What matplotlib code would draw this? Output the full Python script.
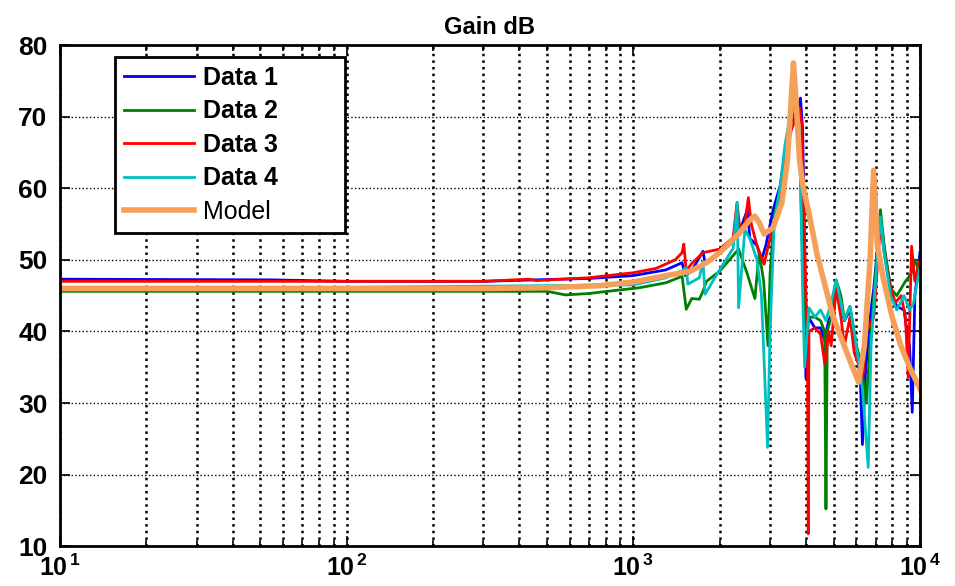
import matplotlib
matplotlib.use("Agg")

import matplotlib.pyplot as plt
import numpy as np
from matplotlib.ticker import FixedLocator, LogLocator, NullFormatter

plt.rcParams['font.family'] = ['Liberation Sans', 'DejaVu Sans']
plt.rcParams['mathtext.fontset'] = 'custom'
plt.rcParams['mathtext.bf'] = 'Liberation Sans:bold'
plt.rcParams['mathtext.rm'] = 'Liberation Sans'

# Datos (frecuencia Hz, ganancia dB)
f_data1 = [10, 55, 100, 300, 450, 700, 1000, 1300, 1480, 1520, 1600, 1750, 1780, 2000,
           2230, 2300, 2350, 2500, 2550, 2700, 2800, 2900, 3075, 3260, 3380, 3520, 3700,
           3830, 3900, 3960, 4000, 4080, 4300, 4500, 4650, 4800, 5000, 5100, 5250, 5450,
           5700, 6000, 6200, 6300, 6450, 6700, 6900, 7280, 7600, 8000, 8300, 8800, 9000,
           9200, 9400, 9600, 10000]
g_data1 = [47.3, 47.2, 47.0, 47.0, 47.2, 47.4, 47.8, 48.6, 49.6, 47.8, 48.5, 51.2, 49.5, 51.0,
           52.5, 55.0, 54.0, 57.0, 53.0, 52.0, 50.0, 52.0, 57.0, 60.5, 65.0, 69.0, 70.0,
           72.6, 68.0, 50.0, 33.5, 42.0, 40.5, 40.5, 38.8, 41.5, 43.0, 46.5, 44.0, 41.5,
           43.0, 38.0, 33.0, 24.2, 34.0, 42.0, 46.0, 56.0, 50.0, 45.0, 43.5, 43.0, 40.0,
           38.0, 28.7, 45.0, 51.0]

f_data2 = [10, 300, 500, 580, 700, 900, 1050, 1300, 1480, 1530, 1600, 1700, 1750, 1800,
           2000, 2230, 2330, 2500, 2655, 2750, 2850, 2950, 3000, 3100, 3260, 3380, 3520,
           3650, 3800, 3900, 3980, 4100, 4300, 4500, 4650, 4700, 4750, 4900, 5100, 5300,
           5450, 5700, 6000, 6200, 6500, 6700, 7000, 7280, 7500, 7900, 8300, 8900, 9300,
           9600, 10000]
g_data2 = [45.6, 45.6, 45.6, 45.1, 45.3, 45.8, 46.1, 46.8, 47.7, 43.1, 44.6, 44.5, 45.6, 47.0,
           48.4, 50.6, 51.5, 48.0, 44.6, 51.0, 47.0, 38.0, 48.0, 56.0, 60.0, 65.0, 69.0,
           70.5, 66.0, 50.0, 40.0, 42.0, 42.0, 41.5, 40.0, 15.2, 40.0, 42.0, 47.2, 45.0,
           41.6, 43.5, 38.0, 36.0, 30.0, 38.0, 48.0, 57.0, 52.0, 46.0, 45.0, 47.0, 48.0,
           50.0, 48.0]

f_data3 = [10, 300, 430, 460, 700, 1000, 1200, 1400, 1480, 1500, 1530, 1600, 1750, 2000,
           2230, 2300, 2350, 2450, 2520, 2580, 2700, 2860, 3000, 3200, 3380, 3550, 3800,
           3870, 3950, 4000, 4050, 4077, 4100, 4300, 4500, 4660, 4800, 4900, 5100, 5300,
           5450, 5700, 5900, 6100, 6300, 6500, 6900, 7280, 7500, 7800, 8200, 8600, 8900,
           9100, 9350, 9600, 10000]
g_data3 = [47.0, 47.0, 47.3, 47.1, 47.5, 48.2, 48.8, 50.0, 51.0, 52.2, 48.5, 49.5, 51.0, 51.5,
           53.1, 58.0, 54.5, 55.0, 58.7, 55.0, 52.0, 49.4, 53.0, 57.0, 64.0, 68.0, 71.2,
           69.0, 55.0, 45.0, 40.0, 11.7, 40.0, 40.5, 39.6, 35.4, 40.0, 38.0, 46.0, 42.0,
           38.0, 42.0, 37.0, 35.5, 33.0, 40.0, 42.0, 55.0, 51.0, 47.0, 44.0, 45.0, 42.0,
           33.6, 51.9, 47.0, 50.0]

f_data4 = [10, 1000, 1300, 1480, 1530, 1550, 1700, 1750, 1780, 2000, 2230, 2305, 2330, 2450,
           2550, 2700, 2800, 2940, 3000, 3100, 3260, 3380, 3520, 3650, 3800, 3900, 3960,
           4100, 4300, 4500, 4700, 4900, 5100, 5300, 5450, 5700, 6000, 6300, 6600, 6750,
           7000, 7280, 7500, 7900, 8300, 8800, 9200, 9500, 10000]
g_data4 = [45.8, 46.5, 47.5, 48.5, 48.9, 46.6, 47.5, 49.8, 45.2, 48.6, 51.6, 58.0, 43.3, 54.2,
           53.0, 50.0, 45.0, 23.8, 40.0, 55.0, 60.5, 66.0, 70.0, 71.4, 68.0, 45.0, 35.0,
           43.3, 42.0, 43.0, 41.5, 44.0, 47.2, 44.0, 41.6, 43.5, 38.0, 32.0, 21.0, 38.0,
           47.0, 56.0, 51.0, 45.0, 43.0, 45.0, 43.0, 44.0, 49.0]

f_model = [10, 300, 500, 764, 1000, 1300, 1580, 1800, 2000, 2330, 2550, 2655, 2750, 2862,
           3075, 3300, 3450, 3550, 3620, 3700, 3800, 3900, 4100, 4380, 4980, 5716, 6110,
           6400, 6700, 6890, 7100, 7460, 8000, 8547, 9200, 10000]
g_model = [46.0, 46.0, 46.1, 46.4, 46.9, 47.8, 48.4, 49.6, 51.0, 53.6, 55.6, 56.1, 55.2, 53.6,
           54.5, 58.0, 64.0, 72.0, 77.5, 72.0, 64.0, 60.5, 56.5, 50.7, 42.0, 35.8, 32.9,
           38.0, 50.0, 62.5, 52.0, 47.3, 42.0, 38.2, 35.0, 32.0]

fig = plt.figure(figsize=(9.55, 5.86), dpi=100)
ax = fig.add_axes([0.0628, 0.068, 0.9005, 0.855])

ax.plot(f_data1, g_data1, color='#0000FF', lw=2, label='Data 1')
ax.plot(f_data2, g_data2, color='#008000', lw=2, label='Data 2')
ax.plot(f_data3, g_data3, color='#FF0000', lw=2, label='Data 3')
ax.plot(f_data4, g_data4, color='#00BFBF', lw=2, label='Data 4')
ax.plot(f_model, g_model, color='#F5A05A', lw=4, label='Model')

ax.set_xscale('log')
ax.set_xlim(10, 1e4)
ax.set_ylim(10, 80)
ax.set_yticks(np.arange(10, 81, 10))
ax.xaxis.set_major_locator(FixedLocator([10, 100, 1000, 10000]))
ax.xaxis.set_minor_locator(LogLocator(base=10, subs=np.arange(2, 10)))
ax.xaxis.set_minor_formatter(NullFormatter())
ax.set_xticklabels([r'$\mathbf{10}^{\,\mathbf{1}}$', r'$\mathbf{10}^{\,\mathbf{2}}$',
                    r'$\mathbf{10}^{\,\mathbf{3}}$', r'$\mathbf{10}^{\,\mathbf{4}}$'],
                   fontsize=18)
for t in ax.get_yticklabels():
    t.set_fontweight('bold')
    t.set_fontsize(19)

ax.tick_params(which='both', direction='in', top=True, right=True, width=1.2)
ax.tick_params(which='major', length=7)
ax.tick_params(which='minor', length=4)
ax.tick_params(axis='x', pad=6)
ax.tick_params(axis='y', pad=9)

ax.grid(True, which='major', axis='y', color='black', ls=':', lw=1.0)
ax.grid(True, which='both', axis='x', color='black', ls=':', lw=1.8)
for s in ax.spines.values():
    s.set_linewidth(2)

ax.set_title('Gain dB', fontsize=17, fontweight='bold', pad=8)

leg = ax.legend(loc='upper left', bbox_to_anchor=(0.064, 0.5, 0.2674, 0.476),
                mode='expand', borderaxespad=0,
                fontsize=18, handlelength=2.8, handletextpad=0.35, labelspacing=0.38,
                borderpad=0.35, fancybox=False, framealpha=1, edgecolor='black')
leg.get_frame().set_linewidth(2)
for i, t in enumerate(leg.get_texts()):
    if i < 4:
        t.set_fontweight('bold')

fig.savefig('out.png', dpi=100)
